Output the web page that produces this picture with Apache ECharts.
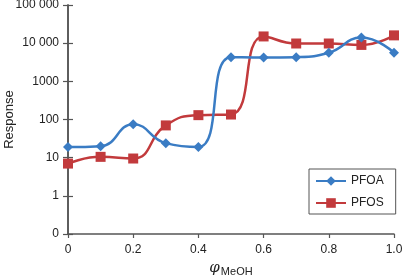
<!DOCTYPE html>
<html>
<head>
<meta charset="utf-8">
<script src="https://cdn.jsdelivr.net/npm/echarts@6/dist/echarts.min.js"></script>
<style>
  html, body { margin: 0; padding: 0; background: #fff; }
  #chart { width: 402px; height: 280px; }
</style>
</head>
<body>
<div id="chart"></div>
<script>
const xValues = [0, 0.1, 0.2, 0.3, 0.4, 0.5, 0.6, 0.7, 0.8, 0.9, 1.0];
const pfoa = [19, 20, 75, 24, 19, 4300, 4200, 4300, 5600, 14000, 5600];
const pfos = [7, 10.5, 9.5, 70, 130, 135, 15000, 9800, 9800, 9000, 16000];
const yTickLabels = { 0.1: '0', 1: '1', 10: '10', 100: '100', 1000: '1000', 10000: '10 000', 100000: '100 000' };

const axisColor = '#555';
const font = 'Liberation Sans, Arial, sans-serif';

const chart = echarts.init(document.getElementById('chart'));

const yBase = {
  type: 'log',
  logBase: 10,
  min: 0.1,
  max: 100000,
  axisLine: { show: true, lineStyle: { color: axisColor, width: 1.5 } },
  splitLine: { show: false },
  minorTick: { show: false }
};

chart.setOption({
  animation: false,
  grid: { left: 68, right: 8, top: 5, bottom: 46, containLabel: false, outerBoundsMode: 'none' },
  xAxis: {
    type: 'value',
    min: 0,
    max: 1,
    interval: 0.2,
    axisLine: { lineStyle: { color: axisColor, width: 1.5 } },
    axisTick: { show: true, length: 4, lineStyle: { color: axisColor, width: 1.2 } },
    splitLine: { show: false },
    axisLabel: {
      color: '#222', fontSize: 12, fontFamily: font, margin: 10,
      formatter: (v) => v === 0 ? '0' : v.toFixed(1)
    },
    name: '{phi|φ}{sub|MeOH}',
    nameLocation: 'middle',
    nameGap: 26,
    nameMoveOverlap: false,
    nameTextStyle: {
      rich: {
        phi: { fontSize: 15, fontStyle: 'italic', fontFamily: 'DejaVu Serif, serif', color: '#222' },
        sub: { fontSize: 11, fontFamily: font, color: '#222', padding: [6, 0, 0, 1] }
      }
    }
  },
  yAxis: [
    Object.assign({}, yBase, {
      axisTick: { show: true, length: 5, lineStyle: { color: axisColor, width: 1.2 } },
      axisLabel: {
        color: '#222', fontSize: 12, fontFamily: font, margin: 9,
        formatter: (v) => yTickLabels[v] !== undefined ? yTickLabels[v] : ''
      },
      name: 'Response',
      nameLocation: 'middle',
      nameGap: 52,
      nameRotate: 90,
      nameMoveOverlap: false,
      nameTextStyle: { color: '#222', fontSize: 13, fontFamily: font }
    }),
    Object.assign({}, yBase, {
      position: 'left',
      axisTick: { show: true, inside: true, length: 5, lineStyle: { color: axisColor, width: 1.2 } },
      axisLabel: { show: false }
    })
  ],
  legend: {
    orient: 'vertical',
    left: 309,
    top: 169,
    padding: [6, 12, 5, 6],
    itemWidth: 30,
    itemHeight: 12,
    itemGap: 10,
    borderColor: axisColor,
    borderWidth: 1,
    backgroundColor: '#fff',
    textStyle: { color: '#222', fontSize: 12, fontFamily: font },
    data: ['PFOA', 'PFOS']
  },
  series: [
    {
      name: 'PFOA',
      type: 'line',
      smooth: 0.5,
      data: xValues.map((x, i) => [x, pfoa[i]]),
      symbol: 'diamond',
      symbolSize: 10,
      color: '#3a7cc4',
      lineStyle: { width: 2.5 },
      z: 3
    },
    {
      name: 'PFOS',
      type: 'line',
      smooth: 0.5,
      data: xValues.map((x, i) => [x, pfos[i]]),
      symbol: 'rect',
      symbolSize: 10,
      color: '#c23a3c',
      lineStyle: { width: 2.5 },
      z: 2
    }
  ]
});

window.addEventListener('resize', () => chart.resize());
</script>
</body>
</html>
